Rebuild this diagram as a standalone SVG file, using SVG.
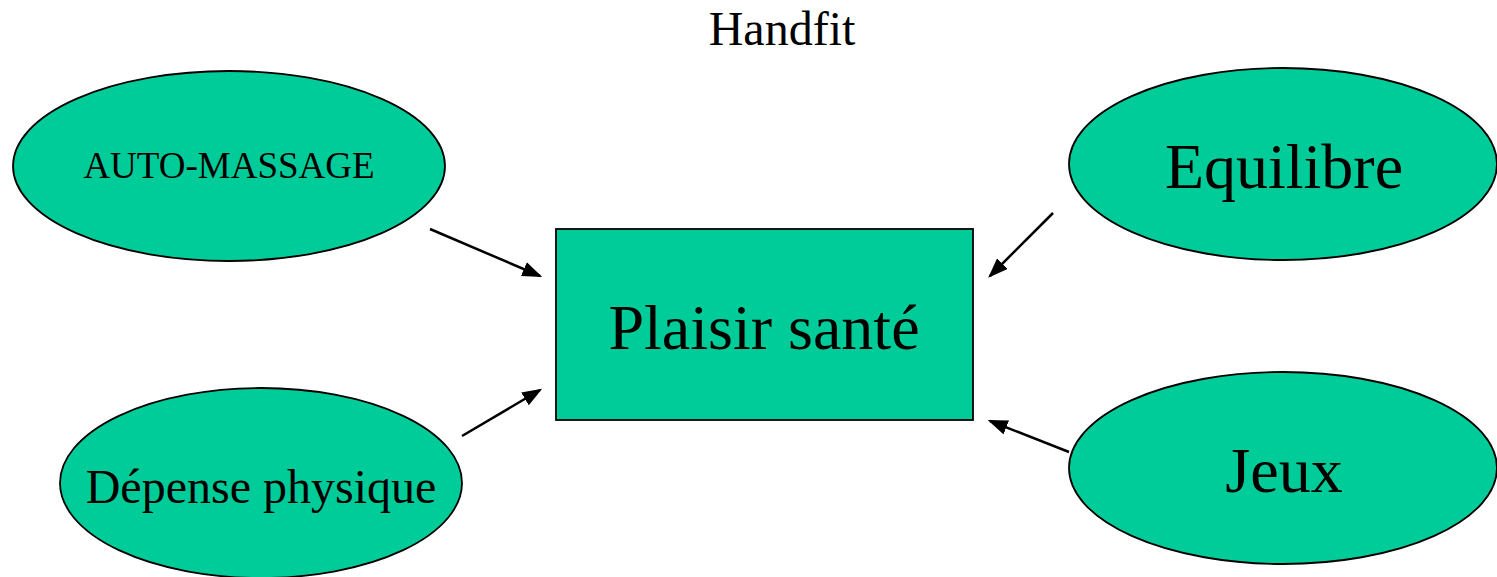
<svg xmlns="http://www.w3.org/2000/svg" width="1497" height="577" viewBox="0 0 1497 577">
<style>
.n{fill:#00CC99;stroke:#000;stroke-width:1.8}
.t{font-family:"Liberation Serif","Times New Roman",serif;fill:#000;text-anchor:middle}
.c{stroke:#000;stroke-width:2.5;fill:none;marker-end:url(#ah)}
</style>
<defs>
<marker id="ah" markerWidth="8" markerHeight="6" refX="7" refY="3" orient="auto" markerUnits="strokeWidth">
<path d="M0,0 L8,3 L0,6 Z" fill="#000"/>
</marker>
</defs>
<rect width="1497" height="577" fill="#fff"/>
<text class="t" x="782" y="45" font-size="48">Handfit</text>
<g id="auto-massage">
<ellipse class="n" cx="229" cy="166" rx="216" ry="95"/>
<text class="t" x="229" y="178" font-size="37">AUTO-MASSAGE</text>
</g>
<g id="equilibre">
<ellipse class="n" cx="1283" cy="164" rx="214" ry="96"/>
<text class="t" x="1284" y="188" font-size="64">Equilibre</text>
</g>
<g id="plaisir">
<rect class="n" x="556" y="229" width="417" height="191"/>
<text class="t" x="764" y="349" font-size="64">Plaisir santé</text>
</g>
<g id="depense">
<ellipse class="n" cx="261" cy="483" rx="201" ry="95"/>
<text class="t" x="261" y="503" font-size="48">Dépense physique</text>
</g>
<g id="jeux">
<ellipse class="n" cx="1283" cy="468" rx="214" ry="96"/>
<text class="t" x="1284" y="492" font-size="64">Jeux</text>
</g>
<g id="connectors">
<line class="c" x1="430" y1="229" x2="540" y2="276"/>
<line class="c" x1="462" y1="436" x2="540" y2="390"/>
<line class="c" x1="1053" y1="213" x2="990" y2="276"/>
<line class="c" x1="1069" y1="452" x2="990" y2="421"/>
</g>
</svg>
